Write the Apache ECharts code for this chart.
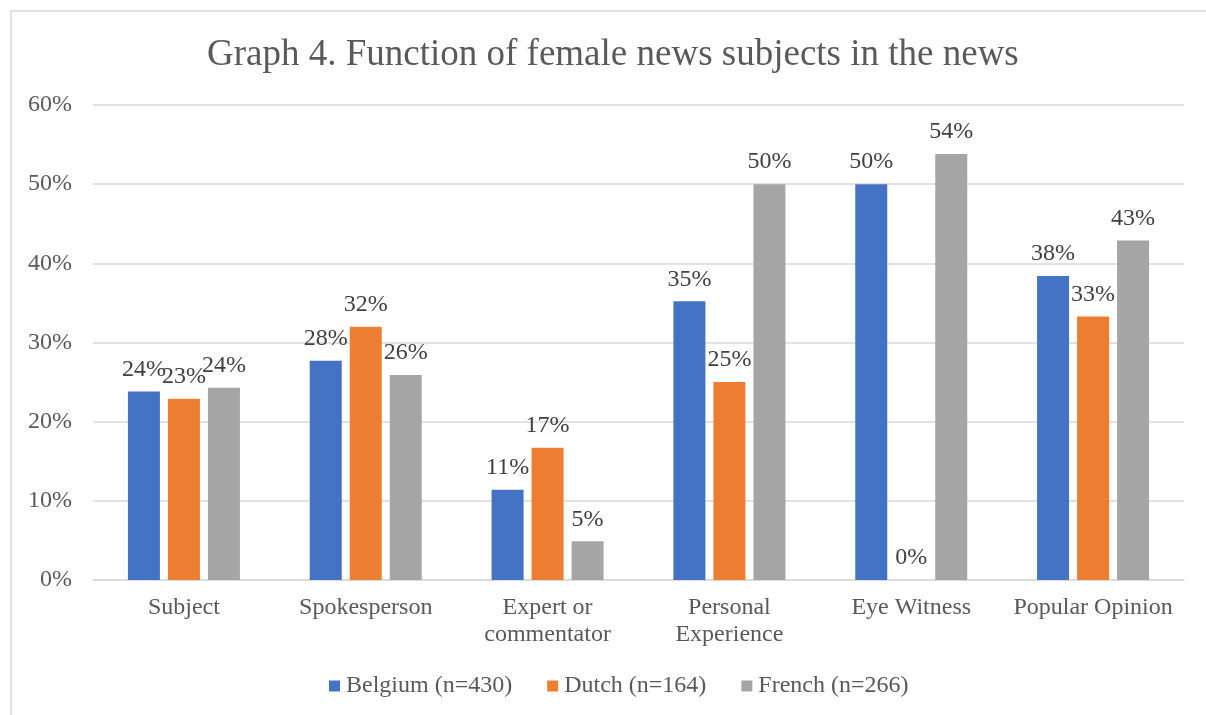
<!DOCTYPE html>
<html>
<head>
<meta charset="utf-8">
<script src="https://cdn.jsdelivr.net/npm/echarts@6/dist/echarts.min.js"></script>
<style>
html,body{margin:0;padding:0;background:#fff;}
#c{width:1206px;height:715px;}
</style>
</head>
<body>
<div id="c"></div>
<script>
const categories = ['Subject', 'Spokesperson', 'Expert or\ncommentator', 'Personal\nExperience', 'Eye Witness', 'Popular Opinion'];
const seriesNames = ['Belgium (n=430)', 'Dutch (n=164)', 'French (n=266)'];
const belgium = [23.8, 27.7, 11.4, 35.2, 50.0, 38.4];
const dutch = [22.9, 32.0, 16.7, 25.0, 0, 33.3];
const french = [24.3, 25.9, 4.9, 50.0, 53.8, 42.9];
const colors = ['#4472C4', '#ED7D31', '#A5A5A5'];

const font = '"Liberation Serif", "Times New Roman", serif';
const chart = echarts.init(document.getElementById('c'), null, {renderer: 'canvas'});

function mk(name, data, color) {
  return {
    name: name,
    type: 'bar',
    data: data,
    barWidth: 32,
    barGap: '25%',
    itemStyle: {color: color},
    label: {
      show: true,
      position: 'top',
      distance: 10,
      fontFamily: font,
      fontSize: 24,
      color: '#404040',
      formatter: p => Math.round(p.value) + '%'
    }
  };
}

chart.setOption({
  animation: false,
  backgroundColor: '#fff',
  textStyle: {fontFamily: font},
  title: {
    text: 'Graph 4. Function of female news subjects in the news',
    left: 202,
    top: 32,
    textStyle: {fontFamily: font, fontSize: 37, fontWeight: 'normal', color: '#595959'}
  },
  graphic: [{
    type: 'rect',
    shape: {x: 11, y: 11, width: 1300, height: 800},
    style: {fill: 'none', stroke: '#d9d9d9', lineWidth: 1.5},
    silent: true
  }],
  legend: {
    bottom: 12,
    left: 324,
    itemWidth: 11,
    itemHeight: 11,
    itemGap: 35,
    icon: 'rect',
    textStyle: {fontFamily: font, fontSize: 24, color: '#595959', padding: [0,0,0,1]},
    data: seriesNames
  },
  grid: {left: 93, right: 22, top: 105, bottom: 135, containLabel: false},
  xAxis: {
    type: 'category',
    data: categories,
    axisTick: {show: false},
    axisLine: {lineStyle: {color: '#d9d9d9', width: 1.5}},
    axisLabel: {fontFamily: font, fontSize: 24, color: '#595959', margin: 14, lineHeight: 27, interval: 0}
  },
  yAxis: {
    type: 'value',
    min: 0,
    max: 60,
    interval: 10,
    axisLine: {show: false},
    axisTick: {show: false},
    splitLine: {lineStyle: {color: '#d9d9d9', width: 1.5}},
    axisLabel: {fontFamily: font, fontSize: 24, color: '#595959', margin: 21, formatter: '{value}%'}
  },
  series: [
    mk(seriesNames[0], belgium, colors[0]),
    mk(seriesNames[1], dutch, colors[1]),
    mk(seriesNames[2], french, colors[2])
  ]
});
</script>
</body>
</html>
